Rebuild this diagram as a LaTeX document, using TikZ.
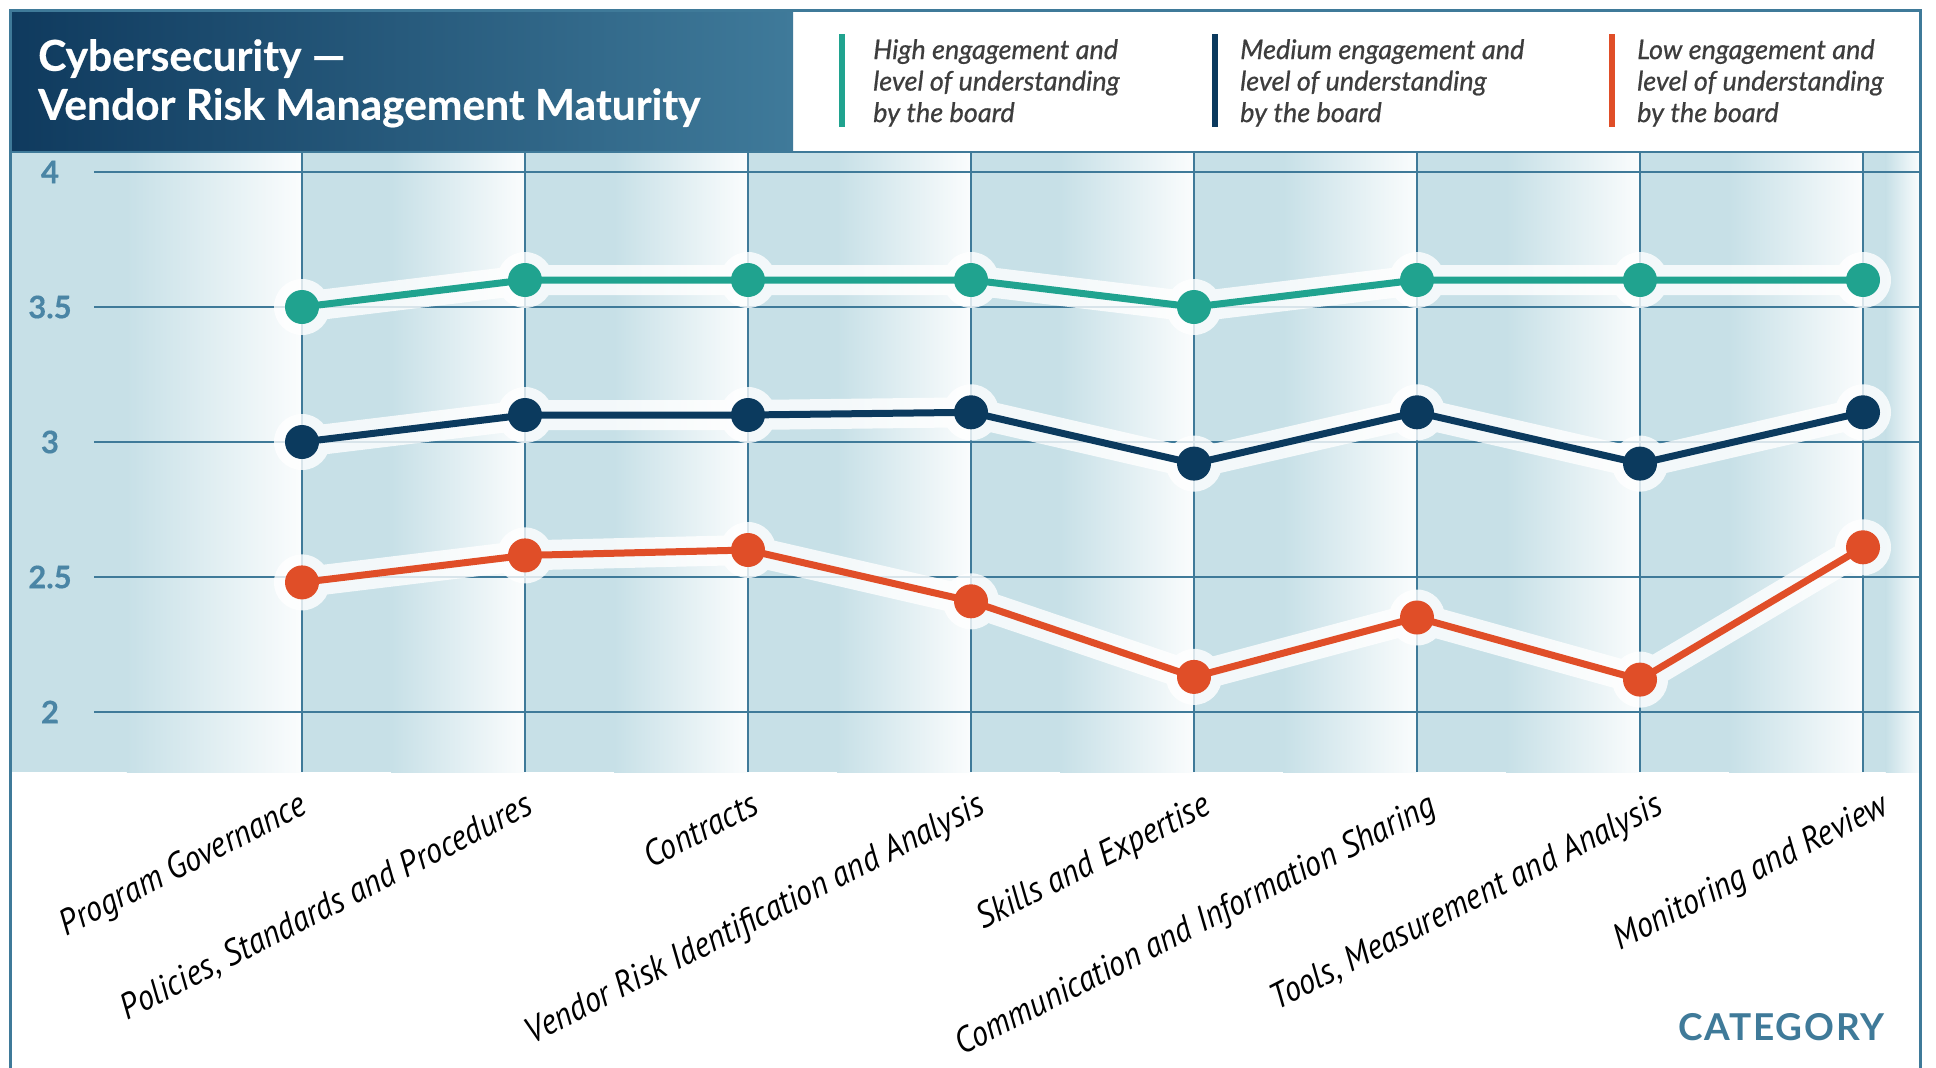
\documentclass[tikz,border=0pt]{standalone}
\usepackage{fontspec}
\setmainfont{Lato}
\newfontfamily\catfont{PT Sans}[FakeStretch=0.9]

\definecolor{framebl}{HTML}{3F7A99}
\definecolor{plotbg}{HTML}{C7E0E7}
\definecolor{ticktxt}{HTML}{4A85A5}
\definecolor{titleleft}{HTML}{0F3A5E}
\definecolor{titleright}{HTML}{3F7A9A}
\definecolor{highcol}{HTML}{20A38F}
\definecolor{medcol}{HTML}{0B3A5E}
\definecolor{lowcol}{HTML}{E04E28}
\definecolor{legtxt}{HTML}{3D3D3D}

% data point: name, category index, value (pixels, y downwards)
\newcommand{\datapt}[3]{\coordinate (#1) at ({302+223*#2},{172+(4-#3)*270});}

\tikzset{
  gridline/.style={framebl, line width=2.5pt},
  halo/.style={white, line width=30pt, line join=round},
  series/.style={line width=7pt, line join=round},
  ytick/.style={font=\fontsize{31}{31}\selectfont\bfseries\addfontfeature{FakeBold=0.4}, text=ticktxt},
  catlabel/.style={font=\catfont\itshape\fontsize{36}{36}\selectfont, rotate=27, anchor=north east, inner sep=0pt},
  legendtxt/.style={font=\itshape\fontsize{27}{31.5}\selectfont\addfontfeature{FakeBold=0.6}, text=legtxt, align=left, anchor=north west, inner sep=0pt},
}

\begin{document}
\begin{tikzpicture}[x=1pt, y=-1pt]
    \useasboundingbox (0,0) rectangle (1936,1068);
    \fill[white] (0,0) rectangle (1936,1068);

    % plot background: each column fades to white towards its right line
    \foreach \l/\r in {10/302, 302/525, 525/748, 748/971, 971/1194, 1194/1417, 1417/1640, 1640/1863, 1863/1920} {
        \fill[plotbg] (\l,152) rectangle ({\l+0.4*(\r-\l)},772);
        \shade[left color=plotbg, right color=white!92!plotbg] ({\l+0.4*(\r-\l)},152) rectangle (\r,772);
    }

    % grid
    \foreach \v/\t in {4/4, 3.5/3.5, 3/3, 2.5/2.5, 2/2} {
        \draw[gridline] (94,{172+(4-\v)*270}) -- (1920,{172+(4-\v)*270});
        \node[ytick] (tick\t) at (50,{172+(4-\v)*270}) {\t};
    }
    \foreach \i in {0,...,7} \draw[gridline] ({302+223*\i},152) -- ({302+223*\i},772);

    % header: title and legend
    \shade[left color=titleleft, right color=titleright] (10,10) rectangle (793,152);
    \node[anchor=north west, inner sep=0pt, text=white, font=\fontsize{42.5}{49}\selectfont\bfseries\addfontfeature{FakeBold=0.5}, align=left] (title) at (38,39) {Cybersecurity ---\\Vendor Risk Management Maturity};
    \draw[gridline] (10,152) -- (1920,152);

    \fill[highcol] (839,34) rectangle (845,127);
    \node[legendtxt] (lhigh) at (873,39) {High engagement and\\level of understanding\\by the board};
    \fill[medcol] (1212,34) rectangle (1218,127);
    \node[legendtxt] (lmed) at (1240,39) {Medium engagement and\\level of understanding\\by the board};
    \fill[lowcol] (1609,34) rectangle (1615,127);
    \node[legendtxt] (llow) at (1637,39) {Low engagement and\\level of understanding\\by the board};

    % frame
    \draw[framebl, line width=3pt] (10,1068) -- (10,10) -- (1920,10) -- (1920,1068);

    % data points
    \datapt{h0}{0}{3.5}  \datapt{h1}{1}{3.6}  \datapt{h2}{2}{3.6}  \datapt{h3}{3}{3.6}
    \datapt{h4}{4}{3.5}  \datapt{h5}{5}{3.6}  \datapt{h6}{6}{3.6}  \datapt{h7}{7}{3.6}
    \datapt{m0}{0}{3.0}  \datapt{m1}{1}{3.1}  \datapt{m2}{2}{3.1}  \datapt{m3}{3}{3.11}
    \datapt{m4}{4}{2.92} \datapt{m5}{5}{3.11} \datapt{m6}{6}{2.92} \datapt{m7}{7}{3.11}
    \datapt{l0}{0}{2.48} \datapt{l1}{1}{2.58} \datapt{l2}{2}{2.60} \datapt{l3}{3}{2.41}
    \datapt{l4}{4}{2.13} \datapt{l5}{5}{2.35} \datapt{l6}{6}{2.12} \datapt{l7}{7}{2.61}

    % halos behind the lines
    \begin{scope}[transparency group, opacity=0.8]
        \foreach \s in {h,m,l} {
            \draw[halo] (\s0)--(\s1)--(\s2)--(\s3)--(\s4)--(\s5)--(\s6)--(\s7);
            \foreach \i in {0,...,7} \fill[white] (\s\i) circle (28);
        }
    \end{scope}

    % series
    \draw[series, highcol] (h0)--(h1)--(h2)--(h3)--(h4)--(h5)--(h6)--(h7);
    \draw[series, medcol] (m0)--(m1)--(m2)--(m3)--(m4)--(m5)--(m6)--(m7);
    \draw[series, lowcol] (l0)--(l1)--(l2)--(l3)--(l4)--(l5)--(l6)--(l7);
    \foreach \i in {0,...,7} {
        \fill[highcol] (h\i) circle (17);
        \fill[medcol] (m\i) circle (17);
        \fill[lowcol] (l\i) circle (17);
    }

    % category labels
    \foreach \i/\c in {0/Program Governance, 1/{Policies, Standards and Procedures}, 2/Contracts,
        3/Vendor Risk Identification and Analysis, 4/Skills and Expertise,
        5/Communication and Information Sharing, 6/{Tools, Measurement and Analysis}, 7/Monitoring and Review}
        \node[catlabel] (cat\i) at ({297+226*\i},790) {\c};

    \node[anchor=base east, inner sep=0pt, text=framebl, font=\fontsize{37}{37}\selectfont\bfseries\addfontfeature{LetterSpace=5}] (axisname) at (1885,1040) {CATEGORY};
\end{tikzpicture}
\end{document}
